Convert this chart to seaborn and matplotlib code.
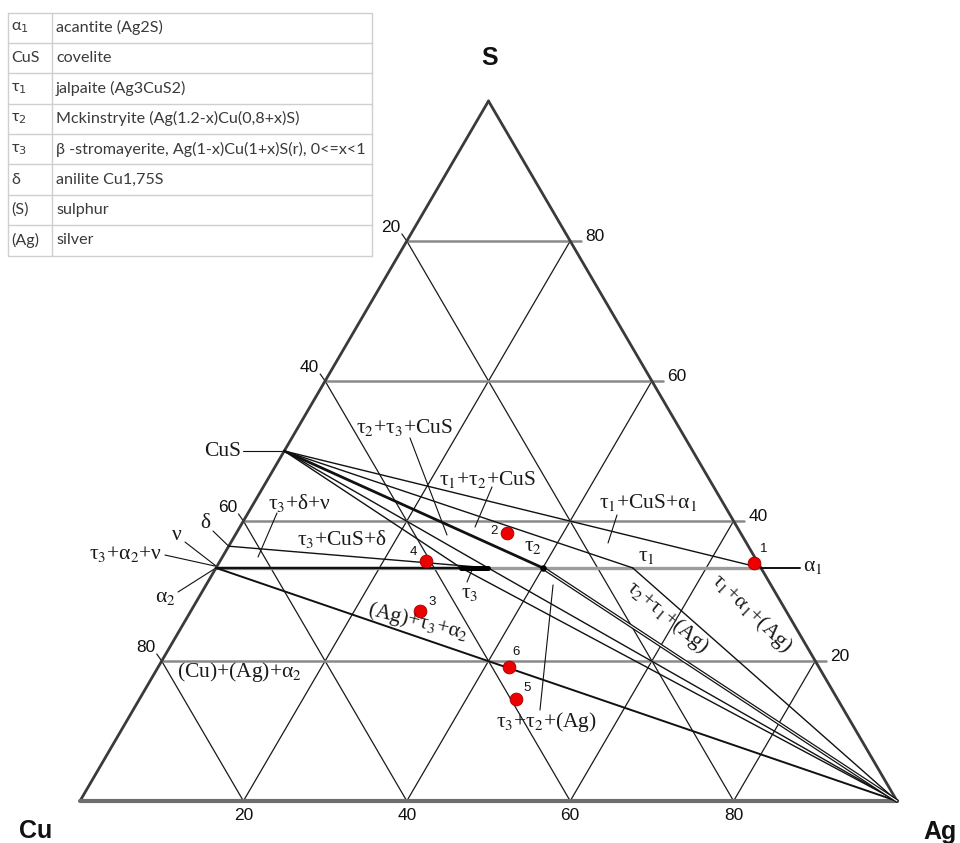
import numpy as np
import pandas as pd
import matplotlib
matplotlib.use("Agg")
import matplotlib.pyplot as plt
import seaborn as sns

# ---------------------------------------------------------------
# Cu-Ag-S isothermal section (compositions in at.%, Cu = balance)
# ---------------------------------------------------------------
phase_names = ["CuS", "alpha1", "tau1", "tau2", "tau3_hi", "tau3_lo", "alpha2", "delta", "Ag"]
phase_ag = [0.0, 66.7, 51.0, 40.0, 33.3, 30.0, 0.0, 0.0, 100.0]
phase_s = [50.0, 33.3, 33.3, 33.3, 33.3, 33.3, 33.3, 36.4, 0.0]

# tie lines: (from, to, line width)
tie_from = ["CuS", "CuS", "CuS", "CuS", "CuS", "delta",
            "Ag", "Ag", "Ag", "Ag"]
tie_to = ["alpha1", "tau1", "tau2", "tau3_hi", "tau3_lo", "tau3_hi",
          "alpha2", "tau3_lo", "tau3_hi", "tau1"]
tie_width = [1.0, 1.0, 2.0, 1.0, 1.0, 1.0,
             1.4, 1.0, 1.0, 1.0]

# analysed samples
sample_ids = ["1", "2", "3", "4", "5", "6"]
sample_ag = [65.5, 33.1, 28.1, 25.2, 46.1, 43.0]
sample_s = [34.0, 38.3, 27.1, 34.3, 14.6, 19.1]

grid_levels = [20, 40, 60, 80]

legend_symbols = ["α$_1$", "CuS", "τ$_1$", "τ$_2$", "τ$_3$", "δ", "(S)", "(Ag)"]
legend_names = ["acantite (Ag2S)", "covelite", "jalpaite (Ag3CuS2)",
                "Mckinstryite (Ag(1.2-x)Cu(0,8+x)S)",
                "β -stromayerite, Ag(1-x)Cu(1+x)S(r), 0<=x<1",
                "anilite Cu1,75S", "sulphur", "silver"]


def tern(ag, s):
    """(Ag, S) at.% -> plot coordinates (x along the Cu-Ag base, y = S)."""
    ag = np.asarray(ag, dtype=float)
    s = np.asarray(s, dtype=float)
    return ag + s / 2.0, s


phase = {n: tern(a, s) for n, a, s in zip(phase_names, phase_ag, phase_s)}

sns.set_theme(style="white")
plt.rcParams["font.family"] = ["Liberation Serif", "DejaVu Serif"]

fig = plt.figure(figsize=(9.6, 8.43), dpi=100)
ax = fig.add_axes([0, 0, 1, 1])
ax.set_xlim(-9.792, 107.711)
ax.set_ylim(-6.0, 114.43)
ax.axis("off")


def seg_frame(pairs):
    rows = []
    for k, (p, q) in enumerate(pairs):
        rows.append({"seg": k, "order": 0, "x": float(p[0]), "y": float(p[1])})
        rows.append({"seg": k, "order": 1, "x": float(q[0]), "y": float(q[1])})
    return pd.DataFrame(rows)


def draw_segments(pairs, color, lw, z=2):
    df = seg_frame(pairs)
    sns.lineplot(data=df, x="x", y="y", units="seg", estimator=None, sort=False,
                 color=color, lw=lw, legend=False, ax=ax, zorder=z)


# composition grid: constant Ag and constant Cu
ag_lines = [(tern(g, 0), tern(g, 100 - g)) for g in grid_levels]
cu_lines = [(tern(100 - g, 0), tern(0, 100 - g)) for g in grid_levels]
draw_segments(ag_lines + cu_lines, "#1a1a1a", 0.9)

# constant S (horizontal) lines, extended slightly past the right edge as ticks
s_lines = [(tern(0, g), (100 - g / 2 + 1.3, g)) for g in grid_levels]
draw_segments(s_lines, "#8a8a8a", 1.8)

# triangle edges
draw_segments([(tern(0, 0), tern(0, 100)), (tern(100, 0), tern(0, 100))], "#3a3a3a", 2.0, z=3)
draw_segments([(tern(0, 0), tern(100, 0))], "#6e6e6e", 3.0, z=3)

# left-edge ticks
left_ticks = [(tern(0, g), (g / 2 - 0.6, g + 1.0)) for g in grid_levels]
draw_segments(left_ticks, "#222222", 0.9)

# the S = 33.3 % section: alpha2 .. alpha1
draw_segments([(phase["alpha2"], phase["alpha1"])], "#9c9c9c", 2.4)
draw_segments([(phase["alpha2"], phase["tau3_lo"])], "#111111", 1.7, z=4)
draw_segments([(phase["tau3_lo"], phase["tau3_hi"])], "#000000", 3.6, z=4)
draw_segments([(phase["alpha1"], (88.1, phase["alpha1"][1]))], "#111111", 1.4, z=4)

# tie lines
for w in sorted(set(tie_width)):
    pairs = [(phase[a], phase[b]) for a, b, tw in zip(tie_from, tie_to, tie_width) if tw == w]
    draw_segments(pairs, "#111111", w, z=3)

# narrow tau2 + (Ag) field drawn as a double line
draw_segments([(phase["tau2"], phase["Ag"])], "#111111", 2.6, z=3)
draw_segments([(phase["tau2"], phase["Ag"])], "white", 0.8, z=3.1)

# tau2 node
sns.scatterplot(x=[float(phase["tau2"][0])], y=[float(phase["tau2"][1])],
                color="black", s=22, linewidth=0, ax=ax, zorder=5, legend=False)

# label leaders
leaders = [
    ((40.39, 51.86), (44.92, 38.0)),
    ((50.43, 44.86), (48.35, 39.14)),
    ((65.73, 40.86), (64.63, 36.86)),
    ((24.11, 41.14), (21.79, 34.86)),
    ((47.98, 33.0), (47.37, 31.29)),
    ((56.3, 13.0), (57.9, 30.86)),
    ((20.0, 50.0), phase["CuS"]),
    ((12.0, 29.86), phase["alpha2"]),
    ((12.85, 37.0), (16.65, 33.57)),
    ((16.28, 38.57), phase["delta"]),
    ((10.4, 35.14), (16.5, 33.57)),
]
draw_segments(leaders, "#111111", 0.8)

# samples
sx, sy = tern(sample_ag, sample_s)
sns.scatterplot(x=sx, y=sy, color="#ee0000", edgecolor="#a00000", linewidth=0.6,
                s=85, ax=ax, zorder=6, legend=False)
sample_offsets = [(10, 14), (-13, 2), (12, 9), (-13, 9), (11, 11), (7, 15)]
for sid, x0, y0, off in zip(sample_ids, sx, sy, sample_offsets):
    ax.annotate(sid, (x0, y0), xytext=off, textcoords="offset pixels",
                ha="center", va="center", fontsize=9.5, family="Liberation Sans",
                color="#111111", zorder=7)

# phase-field labels
serif = dict(family=["Liberation Serif", "DejaVu Serif"], math_fontfamily="stix",
             fontsize=15.5, color="#1a1a1a", ha="center", va="center", zorder=7)
field_labels = [
    ("τ$_2$+τ$_3$+CuS", 39.66, 53.29, 0),
    ("τ$_1$+τ$_2$+CuS", 49.82, 46.0, 0),
    ("τ$_1$+CuS+α$_1$", 69.52, 42.71, 0),
    ("τ$_3$+δ+ν", 26.93, 42.57, 0),
    ("τ$_3$+CuS+δ", 32.07, 37.43, 0),
    ("τ$_1$", 69.4, 34.86, 0),
    ("τ$_2$", 55.45, 36.29, 0),
    ("τ$_3$", 47.74, 29.71, 0),
    ("(Ag)+τ$_3$+α$_2$", 41.37, 25.57, -14),
    ("(Cu)+(Ag)+α$_2$", 19.58, 18.43, 0),
    ("τ$_3$+τ$_2$+(Ag)", 57.04, 11.29, 0),
    ("τ$_2$+τ$_1$+(Ag)", 71.85, 26.29, -40),
    ("τ$_1$+α$_1$+(Ag)", 82.25, 26.86, -44),
    ("ν", 11.87, 37.86, 0),
    ("δ", 15.3, 39.71, 0),
    ("α$_2$", 10.4, 29.14, 0),
    ("CuS", 17.5, 49.86, 0),
]
for txt, x0, y0, rot in field_labels:
    ax.text(x0, y0, txt, rotation=rot, rotation_mode="anchor", **serif)
ax.text(88.5, 33.57, "α$_1$", **{**serif, "ha": "left"})
ax.text(10.0, 35.29, "τ$_3$+α$_2$+ν", **{**serif, "ha": "right"})

# axis numbers
sans = dict(family="Liberation Sans", fontsize=12.5, color="#111111", va="center", zorder=7)
for g in grid_levels:
    ax.text(g, -2.1, f"{g}", ha="center", **sans)
    ax.text(g / 2 - 1.96, g + 2.0, f"{100 - g}", ha="center", **sans)
    ax.text(100 - g / 2 + 1.84, g + 0.7, f"{g}", ha="left", **sans)

corner = dict(family="Liberation Sans", fontsize=18, fontweight="bold",
              color="#111111", ha="center", va="center")
ax.text(-5.39, -4.29, "Cu", **corner)
ax.text(105.26, -4.43, "Ag", **corner)
ax.text(50.18, 106.14, "S", **corner)

# phase legend table in the upper-left corner
tax = fig.add_axes([0, 0, 1, 1], facecolor="none")
tax.set_xlim(0, 960)
tax.set_ylim(843, 0)
tax.axis("off")
edges = np.linspace(12.5, 255.5, len(legend_names) + 1)
bc = "#cfcfcf"
for e in edges:
    tax.plot([8, 372], [e, e], color=bc, lw=1.0)
tax.plot([8, 8], [edges[0], edges[-1]], color=bc, lw=1.0)
tax.plot([372, 372], [edges[0], edges[-1]], color=bc, lw=1.0)
tax.plot([52, 52], [edges[0], edges[-1]], color=bc, lw=1.0)
tfont = dict(family=["Lato", "DejaVu Sans"], math_fontfamily="dejavusans",
             fontsize=11.6, color="#3a3a3a", va="center")
for i, (sym, name) in enumerate(zip(legend_symbols, legend_names)):
    yc = (edges[i] + edges[i + 1]) / 2
    tax.text(11, yc, sym, ha="left", **tfont)
    tax.text(56, yc, name, ha="left", **tfont)

fig.savefig("out.png", dpi=100, facecolor="white")
